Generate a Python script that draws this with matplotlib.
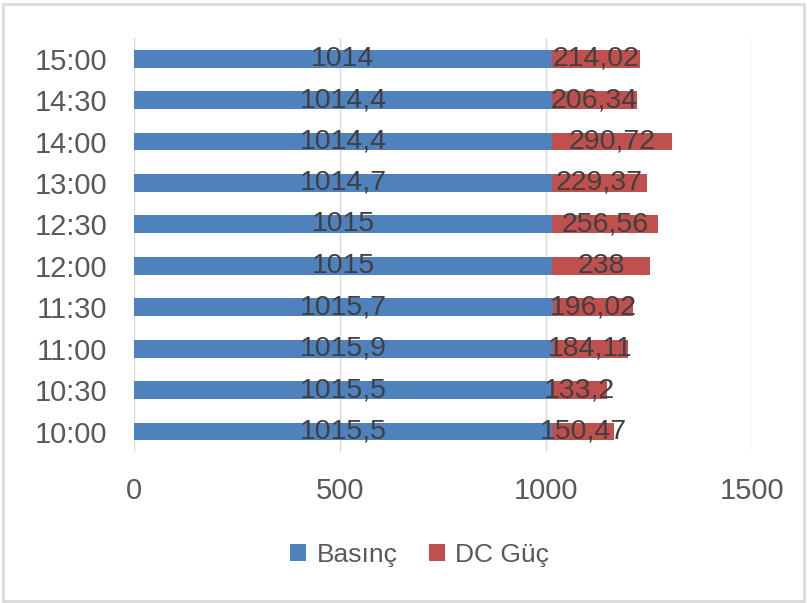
import matplotlib.pyplot as plt
from matplotlib.patches import Rectangle

# saatler (alttan uste)
saatler = ["10:00", "10:30", "11:00", "11:30", "12:00", "12:30", "13:00", "14:00", "14:30", "15:00"]
basinc = [1015.5, 1015.5, 1015.9, 1015.7, 1015, 1015, 1014.7, 1014.4, 1014.4, 1014]
dc_guc = [150.47, 133.2, 184.11, 196.02, 238, 256.56, 229.37, 290.72, 206.34, 214.02]
basinc_etiket = ["1015,5", "1015,5", "1015,9", "1015,7", "1015", "1015", "1014,7", "1014,4", "1014,4", "1014"]
guc_etiket = ["150,47", "133,2", "184,11", "196,02", "238", "256,56", "229,37", "290,72", "206,34", "214,02"]
xticks = [0, 500, 1000, 1500]

plt.rcParams['font.family'] = ['Liberation Sans', 'DejaVu Sans']

mavi = "#4f81bd"
kirmizi = "#c0504d"

fig = plt.figure(figsize=(8.07, 6.03), dpi=100)
ax = fig.add_axes([0.166, 0.250, 0.766, 0.687])

y = range(len(saatler))
b1 = ax.barh(y, basinc, height=0.43, color=mavi, label="Basınç")
b2 = ax.barh(y, dc_guc, left=basinc, height=0.43, color=kirmizi, label="DC Güç")

for i in y:
    ax.text(basinc[i] / 2, i, basinc_etiket[i], ha="center", va="center", fontsize=20.5, color="#404040")
    ax.text(basinc[i] + dc_guc[i] / 2, i, guc_etiket[i], ha="center", va="center", fontsize=20.5, color="#404040")

ax.set_xlim(0, 1500)
ax.set_ylim(-0.5, len(saatler) - 0.5)
ax.set_xticks(xticks)
ax.set_yticks(list(y))
ax.set_yticklabels(saatler)
ax.tick_params(axis="both", length=0, labelsize=21, labelcolor="#595959")
ax.tick_params(axis="x", pad=18)
ax.tick_params(axis="y", pad=19)
for s in ax.spines.values():
    s.set_visible(False)
ax.xaxis.grid(True, color="#d9d9d9", linewidth=1)
ax.set_axisbelow(True)

fig.legend(handles=[b1, b2], loc="center", bbox_to_anchor=(0.52, 0.08), ncol=2, frameon=False,
           fontsize=19, labelcolor="#595959", handlelength=0.6, handleheight=0.6, handletextpad=0.4,
           columnspacing=1.2)

fig.patches.append(Rectangle((0.004, 0.004), 0.992, 0.99, transform=fig.transFigure, fill=False,
                             edgecolor="#d9d9d9", linewidth=2))

fig.savefig("out.png", dpi=100)
